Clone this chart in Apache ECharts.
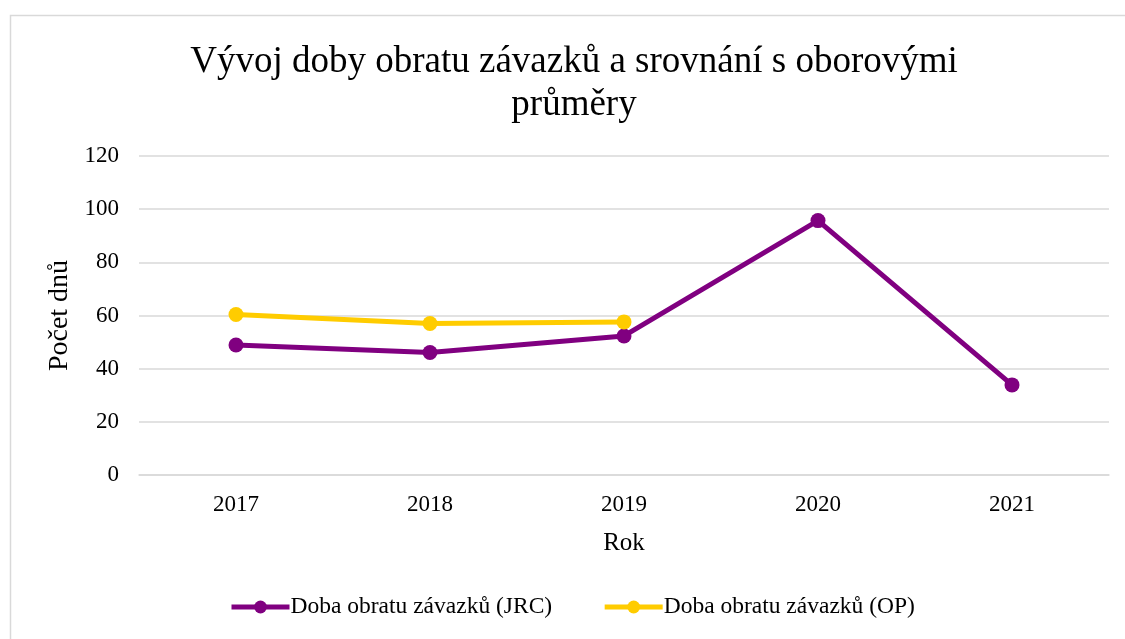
<!DOCTYPE html>
<html>
<head>
<meta charset="utf-8">
<script src="https://cdn.jsdelivr.net/npm/echarts@6/dist/echarts.min.js"></script>
<style>
    html, body { margin: 0; padding: 0; background: #fff; }
    #chart { width: 1125px; height: 639px; }
</style>
</head>
<body>
<div id="chart"></div>
<script>
// Data
var years = ['2017', '2018', '2019', '2020', '2021'];
var jrcValues = [48.9, 46.1, 52.3, 95.7, 33.9];
var opValues = [60.4, 57.0, 57.6, null, null];
var seriesNames = ['Doba obratu závazků (JRC)', 'Doba obratu závazků (OP)'];

var serif = '"Liberation Serif", "Times New Roman", serif';

var chart = echarts.init(document.getElementById('chart'));

chart.setOption({
    animation: false,
    color: ['#800080', '#ffcc00'],
    textStyle: { fontFamily: serif, color: '#000' },

    // Chart area border
    graphic: [{
        type: 'rect',
        shape: { x: 10.5, y: 15.5, width: 1130, height: 640 },
        style: { fill: 'none', stroke: '#d9d9d9', lineWidth: 1.5 },
        silent: true
    }],

    title: {
        text: 'Vývoj doby obratu závazků a srovnání s oborovými\nprůměry',
        left: 569,
        top: 36,
        textAlign: 'center',
        textStyle: {
            fontFamily: serif,
            fontSize: 37,
            fontWeight: 'normal',
            lineHeight: 43,
            color: '#000'
        }
    },

    legend: {
        bottom: 15,
        left: 224,
        itemGap: 50,
        itemWidth: 58,
        itemHeight: 16,
        data: seriesNames,
        lineStyle: { width: 5 },
        textStyle: { fontFamily: serif, fontSize: 23.5, color: '#000', padding: [0, 0, 0, -4] }
    },

    grid: {
        left: 139,
        right: 16,
        top: 156,
        bottom: 164,
        containLabel: false
    },

    xAxis: {
        type: 'category',
        data: years,
        name: 'Rok',
        nameLocation: 'middle',
        nameGap: 56,
        nameTextStyle: { fontFamily: serif, fontSize: 25, color: '#000' },
        axisLine: { lineStyle: { color: '#d9d9d9', width: 1.5 } },
        axisTick: { show: false },
        axisLabel: { fontFamily: serif, fontSize: 23, color: '#000', margin: 18 }
    },

    yAxis: {
        type: 'value',
        min: 0,
        max: 120,
        interval: 20,
        name: 'Počet dnů',
        nameLocation: 'middle',
        nameGap: 61,
        nameTextStyle: { fontFamily: serif, fontSize: 28, color: '#000' },
        axisLine: { show: false },
        axisTick: { show: false },
        axisLabel: { fontFamily: serif, fontSize: 23, color: '#000', margin: 20 },
        splitLine: { lineStyle: { color: '#d9d9d9', width: 1.5 } }
    },

    series: [{
        name: seriesNames[0],
        type: 'line',
        data: jrcValues,
        symbol: 'circle',
        symbolSize: 15,
        lineStyle: { width: 5 },
        z: 2
    }, {
        name: seriesNames[1],
        type: 'line',
        data: opValues,
        symbol: 'circle',
        symbolSize: 15,
        lineStyle: { width: 5 },
        connectNulls: false,
        z: 3
    }]
});
</script>
</body>
</html>
